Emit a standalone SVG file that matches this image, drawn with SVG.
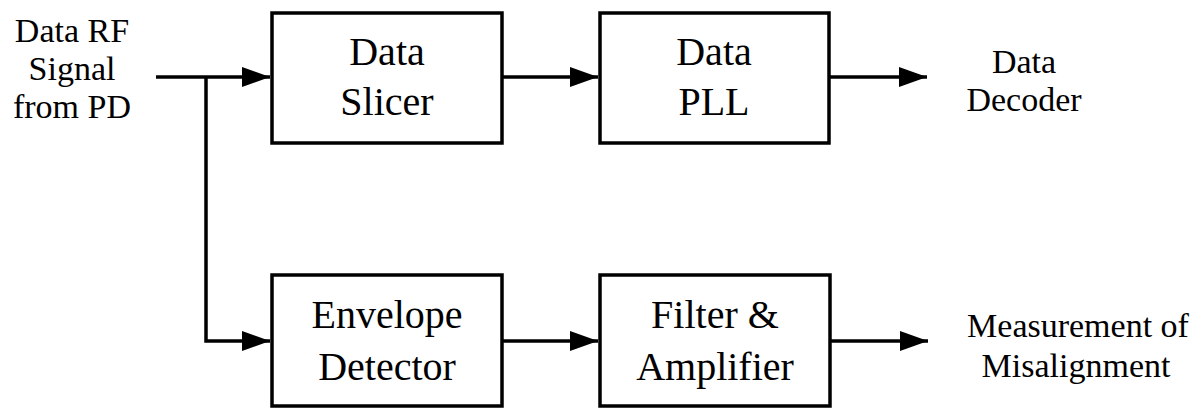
<svg xmlns="http://www.w3.org/2000/svg" width="1202" height="413" viewBox="0 0 1202 413">
<defs>
<marker id="arr" markerWidth="28" markerHeight="20" refX="28" refY="10" orient="auto" markerUnits="userSpaceOnUse">
<path d="M0,0 L28,10 L0,20 Z" fill="#000"/>
</marker>
<style>
.box{fill:#fff;stroke:#000;stroke-width:3.5}
text{font-family:"Liberation Serif","Times New Roman",Times,"DejaVu Serif",serif;fill:#000;text-anchor:middle}
.lbl{font-size:40px}
.out{font-size:34px}
.wire{fill:none;stroke:#000;stroke-width:3.5}
</style>
</defs>
<rect width="1202" height="413" fill="#fff"/>
<g id="connectors">
<path class="wire" d="M156,77 H270" marker-end="url(#arr)"/>
<path class="wire" d="M206,77 V341 H270" marker-end="url(#arr)"/>
<path class="wire" d="M502,77 H598" marker-end="url(#arr)"/>
<path class="wire" d="M829,77 H927" marker-end="url(#arr)"/>
<path class="wire" d="M502,341 H598" marker-end="url(#arr)"/>
<path class="wire" d="M830,341 H928" marker-end="url(#arr)"/>
</g>
<g id="input">
<text class="out" x="72" y="42">Data RF</text>
<text class="out" x="72" y="80">Signal</text>
<text class="out" x="72" y="118">from PD</text>
</g>
<g id="slicer">
<rect class="box" x="272" y="13" width="230" height="130"/>
<text class="lbl" x="387" y="65">Data</text>
<text class="lbl" x="387" y="115">Slicer</text>
</g>
<g id="pll">
<rect class="box" x="600" y="13" width="229" height="130"/>
<text class="lbl" x="714" y="65">Data</text>
<text class="lbl" x="714" y="115">PLL</text>
</g>
<g id="decoder">
<text class="out" x="1024" y="73">Data</text>
<text class="out" x="1024" y="111">Decoder</text>
</g>
<g id="envelope">
<rect class="box" x="272" y="275" width="230" height="131"/>
<text class="lbl" x="387" y="328">Envelope</text>
<text class="lbl" x="387" y="380">Detector</text>
</g>
<g id="filter">
<rect class="box" x="600" y="275" width="230" height="131"/>
<text class="lbl" x="715" y="328">Filter &amp;</text>
<text class="lbl" x="715" y="380">Amplifier</text>
</g>
<g id="measurement">
<text class="out" x="1078" y="337">Measurement of</text>
<text class="out" x="1076" y="377">Misalignment</text>
</g>
</svg>
